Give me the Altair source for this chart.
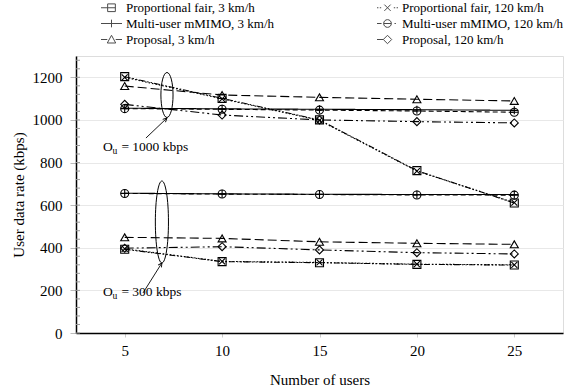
import altair as alt
import pandas as pd

FONT = "Liberation Serif"

users = [5, 10, 15, 20, 25]
# legend order (filled column by column): 3 km/h entries, then 120 km/h entries
series_names = [
    "Proportional fair, 3 km/h", "Multi-user mMIMO, 3 km/h", "Proposal, 3 km/h",
    "Proportional fair, 120 km/h", "Multi-user mMIMO, 120 km/h", "Proposal, 120 km/h",
]

# O_u = 1000 kbps group
pf3_1000 = [1203, 1101, 1000, 762, 610]
pf120_1000 = [1200, 1099, 998, 760, 612]
mu3_1000 = [1055, 1052, 1050, 1048, 1045]
mu120_1000 = [1053, 1050, 1046, 1042, 1036]
prop3_1000 = [1159, 1117, 1106, 1097, 1089]
prop120_1000 = [1073, 1023, 1000, 992, 986]

# O_u = 300 kbps group
pf3_300 = [393, 335, 330, 322, 319]
pf120_300 = [395, 336, 331, 323, 320]
mu3_300 = [656, 653, 651, 650, 650]
mu120_300 = [655, 652, 650, 648, 647]
prop3_300 = [449, 444, 428, 421, 416]
prop120_300 = [398, 405, 390, 377, 371]

groups = {
    "1000": [pf3_1000, mu3_1000, prop3_1000, pf120_1000, mu120_1000, prop120_1000],
    "300": [pf3_300, mu3_300, prop3_300, pf120_300, mu120_300, prop120_300],
}

rows = []
for g, lists in groups.items():
    for name, vals in zip(series_names, lists):
        for u, v in zip(users, vals):
            rows.append({"users": u, "rate": v, "series": name, "group": g})
df = pd.DataFrame(rows)

dash_range = [[6, 2, 1.5, 2, 1.5, 2], [1, 0], [9, 4], [1.5, 2], [5, 3], [9, 3, 2, 3, 2, 3]]
marker_range = [
    "square",
    "M-1,0H1M0,-1V1",
    "triangle-up",
    "M-0.75,-0.75L0.75,0.75M-0.75,0.75L0.75,-0.75",
    "M-1,0A1,1 0 1 1 1,0A1,1 0 1 1 -1,0M-1,0H1",
    "diamond",
]
legend_range = [
    "M-1.5,0H-0.55M-0.55,-0.55H0.55V0.55H-0.55ZM-0.55,0H0.55",
    "M-1.5,0H1.5M0,-0.55V0.55",
    "M-1.5,0H-0.6M0.6,0H1.5M0,-0.6L0.6,0.5L-0.6,0.5Z",
    "M-1.5,0H-1.3M-1.1,0H-0.9M-0.45,-0.45L0.45,0.45M-0.45,0.45L0.45,-0.45M0.9,0H1.1M1.3,0H1.5",
    "M-1.5,0H-0.85M-0.55,0A0.55,0.55 0 1 1 0.55,0A0.55,0.55 0 1 1 -0.55,0M-0.55,0H0.55M1.0,0H1.2",
    "M-1.5,0H-0.6M-0.6,0L0,-0.6L0.6,0L0,0.6Z",
]

minor_ticks = list(range(0, 1300, 40))

x_scale = alt.Scale(domain=[2.5, 27.5], nice=False, zero=False)
y_scale = alt.Scale(domain=[0, 1300], nice=False)

x_axis = alt.Axis(values=users, title="Number of users", grid=False, domainColor="black",
                  domainWidth=1.5, tickColor="#cccccc", tickSize=4, labelPadding=6,
                  labelFont=FONT, labelFontSize=15, titleFont=FONT, titleFontSize=15,
                  titleFontWeight="normal", titlePadding=14, labelColor="black", titleColor="black")
y_axis = alt.Axis(values=list(range(0, 1201, 200)), format="d", title="User data rate (kbps)",
                  grid=True, gridColor="#e8e8e8", domainColor="black", domainWidth=1.5,
                  tickColor="#bbbbbb", tickSize=6, labelPadding=8, labelFont=FONT, labelFontSize=15,
                  titleFont=FONT, titleFontSize=15, titleFontWeight="normal", titlePadding=6,
                  labelColor="black", titleColor="black")

base = alt.Chart(df)

lines = base.mark_line(color="black", strokeWidth=1.1).encode(
    x=alt.X("users:Q", scale=x_scale, axis=x_axis),
    y=alt.Y("rate:Q", scale=y_scale, axis=y_axis),
    strokeDash=alt.StrokeDash("series:N", scale=alt.Scale(domain=series_names, range=dash_range), legend=None),
    detail="group:N",
)

points = base.mark_point(color="black", filled=False, size=64, strokeWidth=1.1, opacity=1).encode(
    x=alt.X("users:Q", scale=x_scale),
    y=alt.Y("rate:Q", scale=y_scale),
    shape=alt.Shape("series:N", scale=alt.Scale(domain=series_names, range=marker_range), legend=None),
)

legend_layer = base.transform_filter("false").mark_point(color="black", filled=False, strokeWidth=1).encode(
    x=alt.X("users:Q", scale=x_scale),
    y=alt.Y("rate:Q", scale=y_scale),
    shape=alt.Shape("series:N", scale=alt.Scale(domain=series_names, range=legend_range),
                    legend=alt.Legend(title=None, orient="none", legendX=28, legendY=-56, columns=2,
                                      columnPadding=100, rowPadding=1, symbolSize=196,
                                      symbolStrokeColor="black", symbolStrokeWidth=1,
                                      symbolFillColor="white", labelFont=FONT, labelFontSize=13,
                                      labelColor="black", labelOffset=7, labelLimit=300)),
)

minor_df = pd.DataFrame({"tick": minor_ticks})
minor = alt.Chart(minor_df).mark_rule(color="#999999", strokeWidth=1).encode(
    y=alt.Y("tick:Q", scale=y_scale),
    x=alt.value(0), x2=alt.value(4),
)

# annotations
ell_x = [7.17, 6.91]
ell_y = [1117, 521]
ell1 = alt.Chart(pd.DataFrame({"x": ell_x[:1], "y": ell_y[:1]})).mark_point(
    shape="M-0.27,0A0.27,1 0 1 1 0.27,0A0.27,1 0 1 1 -0.27,0", size=2025,
    color="black", filled=False, strokeWidth=1, opacity=1).encode(
    x=alt.X("x:Q", scale=x_scale), y=alt.Y("y:Q", scale=y_scale))
ell2 = alt.Chart(pd.DataFrame({"x": ell_x[1:], "y": ell_y[1:]})).mark_point(
    shape="M-0.16,0A0.16,1 0 1 1 0.16,0A0.16,1 0 1 1 -0.16,0", size=6724,
    color="black", filled=False, strokeWidth=1, opacity=1).encode(
    x=alt.X("x:Q", scale=x_scale), y=alt.Y("y:Q", scale=y_scale))

arrow_x = [6.09, 5.94]
arrow_y = [915, 188]
arrow_x2 = [7.17, 6.91]
arrow_y2 = [1009, 329]
arrow_angle = [46, 32]
arr_df = pd.DataFrame({"x": arrow_x, "y": arrow_y, "x2": arrow_x2, "y2": arrow_y2, "angle": arrow_angle})
arrows = alt.Chart(arr_df).mark_rule(color="black", strokeWidth=0.9).encode(
    x=alt.X("x:Q", scale=x_scale), y=alt.Y("y:Q", scale=y_scale), x2="x2:Q", y2="y2:Q")
heads = alt.Chart(arr_df).mark_point(shape="M-0.5,1L0,0L0.5,1", size=64, color="black",
                                     filled=False, strokeWidth=0.9, opacity=1).encode(
    x=alt.X("x2:Q", scale=x_scale), y=alt.Y("y2:Q", scale=y_scale),
    angle=alt.Angle("angle:Q", scale=None))

label_x = [3.88, 3.88]
label_y = [854, 174]
label_text = ["= 1000 kbps", "= 300 kbps"]
lab_df = pd.DataFrame({"x": label_x, "y": label_y, "t": label_text})
lab_O = alt.Chart(lab_df).mark_text(text="O", font=FONT, fontSize=13.5, align="left",
                                    baseline="alphabetic", color="black").encode(
    x=alt.X("x:Q", scale=x_scale), y=alt.Y("y:Q", scale=y_scale))
lab_u = alt.Chart(lab_df).mark_text(text="u", font=FONT, fontSize=9.5, align="left",
                                    baseline="alphabetic", dx=9.5, dy=3, color="black").encode(
    x=alt.X("x:Q", scale=x_scale), y=alt.Y("y:Q", scale=y_scale))
lab_rest = alt.Chart(lab_df).mark_text(font=FONT, fontSize=13.5, align="left",
                                       baseline="alphabetic", dx=18.5, color="black").encode(
    x=alt.X("x:Q", scale=x_scale), y=alt.Y("y:Q", scale=y_scale), text="t:N")

chart = alt.layer(
    minor, lines, points, legend_layer, ell1, ell2, arrows, heads, lab_O, lab_u, lab_rest
).resolve_scale(shape="independent").properties(
    width=487, height=277,
    autosize=alt.AutoSizeParams(type="none"),
    padding={"left": 76, "top": 56, "right": 2, "bottom": 57},
).configure_view(stroke="#999999", strokeWidth=1).configure(background="white")

chart.save("out.html", embed_options={"renderer": "svg", "actions": False})
